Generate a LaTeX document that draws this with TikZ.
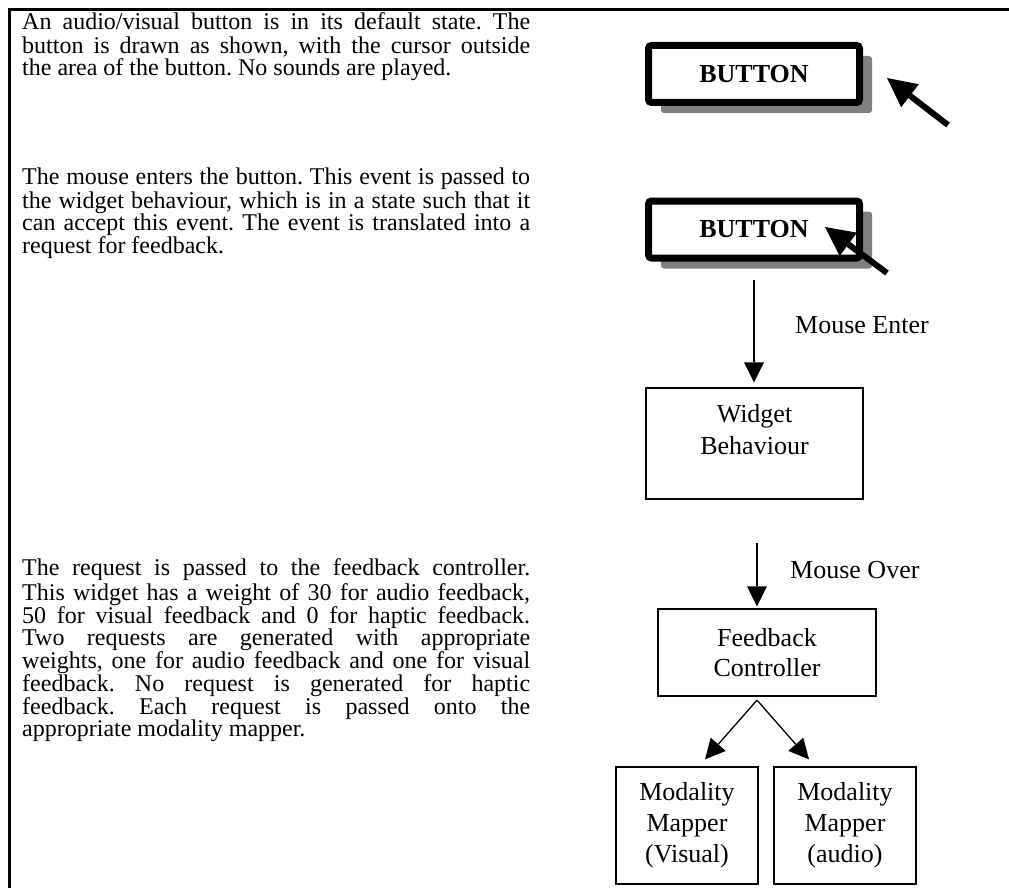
\documentclass[tikz,border=0pt]{standalone}
\usepackage{fontspec}
\setmainfont{Liberation Serif}
\usetikzlibrary{arrows.meta,shadows}
\definecolor{shadowgray}{RGB}{128,128,128}
\frenchspacing
\newlength{\parw}
\setlength{\parw}{508pt}
\newcommand{\jline}[1]{\makebox[\parw][s]{\spaceskip=0pt\xspaceskip=0pt\relax #1}\\}
\tikzset{
  tableframe/.style={line width=3pt, line join=miter},
  paratext/.style={anchor=north west, inner sep=0pt, text width=\parw, align=justify,
    font=\fontsize{24}{22}\selectfont},
  btnbox/.style={draw=black, line width=7pt, rounded corners=3pt, fill=white,
    minimum width=211pt, minimum height=57pt, inner sep=0pt,
    font=\bfseries\fontsize{26}{30}\selectfont,
    drop shadow={shadow xshift=12.5pt, shadow yshift=-10.5pt, fill=shadowgray, opacity=1}},
  cursorarrow/.style={line width=6pt, -{Triangle[length=29pt,width=29pt,line width=0pt]}},
  flowbox/.style={draw=black, line width=1.3pt, align=center, inner sep=0pt,
    font=\fontsize{26}{31}\selectfont},
  boxtext/.style={align=center, inner sep=0pt, font=\fontsize{26}{32}\selectfont},
  conn/.style={line width=1.3pt, -{Triangle[length=20pt,width=20pt,line width=0pt]}},
  lbl/.style={anchor=base west, inner sep=0pt, font=\fontsize{26}{30}\selectfont},
}
\begin{document}
\begin{tikzpicture}[x=1pt,y=-1pt]
\useasboundingbox (0,0) rectangle (1009,888);
\fill[white] (0,0) rectangle (1009,888);
% partial table frame
\draw[tableframe] (9,888) -- (9,9.5) -- (1009,9.5);

% left column text
\node[paratext] (p1) at (22,12.6) {\spaceskip=0pt\xspaceskip=0pt\relax
\jline{\strut An audio/visual button is in its default state. The}\jline{button is drawn as shown, with the cursor outside}the area of the button. No sounds are played.};
\node[paratext] (p2) at (22,167.6) {\spaceskip=0pt\xspaceskip=0pt\relax
\jline{\strut The mouse enters the button. This event is passed to}\jline{the widget behaviour, which is in a state such that it}\jline{can accept this event. The event is translated into a}request for feedback.};
\node[paratext] (p3) at (22,558.6) {\spaceskip=0pt\xspaceskip=0pt\relax
\jline{\strut The request is passed to the feedback controller.}\jline{This widget has a weight of 30 for audio feedback,}\jline{50 for visual feedback and 0 for haptic feedback.}\jline{Two requests are generated with appropriate}\jline{weights, one for audio feedback and one for visual}\jline{feedback. No request is generated for haptic}\jline{feedback. Each request is passed onto the}appropriate modality mapper.};

% buttons
\node[btnbox] (btn1) at (754,74) {BUTTON};
\node[btnbox] (btn2) at (754,229.5) {BUTTON};

% cursors
\coordinate (c1tail) at (948,125);
\coordinate (c1tip) at (887,78);
\draw[cursorarrow] (c1tail) -- (c1tip);
\coordinate (c2tail) at (887,273);
\coordinate (c2tip) at (825,227);
\draw[cursorarrow] (c2tail) -- (c2tip);

% flow boxes
\node[flowbox, minimum width=217pt, minimum height=111pt] (wb) at (754.5,443.5) {};
\node[boxtext] (wbt) at ([yshift=13.5pt]wb.center) {Widget\\Behaviour};
\node[flowbox, minimum width=218pt, minimum height=87pt, font=\fontsize{26}{30}\selectfont] (fc) at (767,652.5) {Feedback\\Controller};
\node[flowbox, minimum width=142pt, minimum height=117pt] (mmv) at (687,825.5) {Modality\\Mapper\\(Visual)};
\node[flowbox, minimum width=142pt, minimum height=117pt] (mma) at (845,825.5) {Modality\\Mapper\\(audio)};

% connectors
\draw[conn, shorten <=18pt, shorten >=5pt] (btn2.south) -- (btn2.south |- wb.north);
\node[lbl] (lenter) at (795,333) {Mouse Enter};
\coordinate (mostart) at (757,543);
\draw[conn, shorten >=2pt] (mostart) -- (mostart |- fc.north);
\node[lbl] (lover) at (790,578) {Mouse Over};
\coordinate (fcsplit) at ([xshift=-10pt, yshift=-3.5pt]fc.south);
\draw[conn] (fcsplit) -- ([xshift=18pt, yshift=7pt]mmv.north);
\draw[conn] (fcsplit) -- ([xshift=-36pt, yshift=7pt]mma.north);
\end{tikzpicture}
\end{document}
